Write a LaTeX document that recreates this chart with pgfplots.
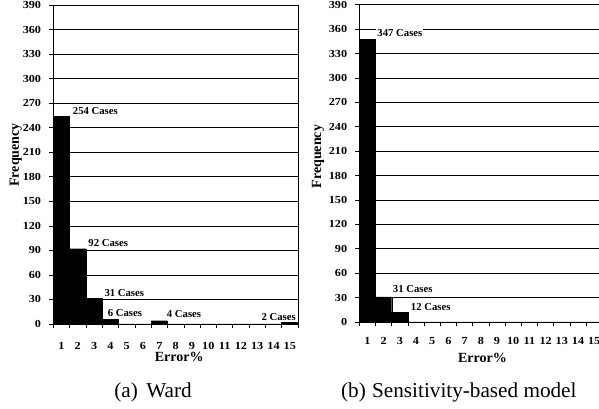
\documentclass[border=0pt]{standalone}
\usepackage{pgfplots}
\pgfplotsset{compat=1.18}
\usepackage{fontspec}
\setmainfont{Liberation Serif}
\newfontfamily\tickfont[FakeStretch=1.13]{Liberation Serif}
\pgfplotstableread{
x y
1 254
2 92
3 31
4 6
5 0
6 0
7 4
8 0
9 0
10 0
11 0
12 0
13 0
14 0
15 2
}\ward
\pgfplotstableread{
x y
1 347
2 31
3 12
4 0
5 0
6 0
7 0
8 0
9 0
10 0
11 0
12 0
13 0
14 0
15 0
}\sens
\tikzset{cases/.style={font=\bfseries\fontsize{10.7}{12}\selectfont, fill=white, inner sep=1pt, anchor=west}}
\begin{document}
\begin{tikzpicture}
\useasboundingbox (0,0) rectangle (599pt,409pt);
\pgfplotsset{
  hist/.style={
    scale only axis, anchor=south west, clip=false,
    ymin=0, ymax=390, ytick={0,30,...,390},
    xmin=0.5, xmax=15.5,
    xtick={0.5,1.5,...,15.5},
    xticklabels={1,2,3,4,5,6,7,8,9,10,11,12,13,14,15,{}},
    ymajorgrids, grid style={black, line width=0.6pt},
    axis line style={line width=0.8pt},
    major tick length=4pt, tick align=outside,
    tick style={black, line width=0.6pt},
    xtick pos=bottom, ytick pos=left,
    /pgf/number format/assume math mode=true,
    ticklabel style={font=\tickfont\bfseries\fontsize{10.8}{12}\selectfont},
    yticklabel style={anchor=east, inner sep=0pt, xshift=-8pt},
    label style={font=\bfseries\fontsize{14}{16}\selectfont},
    ylabel={Frequency}, xlabel={Error\%},
  }
}
\begin{axis}[hist, at={(53.3pt,85pt)}, width=244.7pt, height=319pt,
  xticklabel style={anchor=center, inner sep=0pt, xshift=8.157pt, yshift=-18pt},
  ylabel style={at={(axis description cs:-0.1537,0.53)}, anchor=center},
  xlabel style={at={(axis description cs:0.5145,-0.103)}, anchor=center}]
\addplot[ybar, bar width=1, bar shift=0pt, fill=black, draw=black] table[x=x,y=y] {\ward};
\node[cases] at (axis cs:1.628,261) {254 Cases};
\node[cases] at (axis cs:2.584,99.4) {92 Cases};
\node[cases] at (axis cs:3.565,38.3) {31 Cases};
\node[cases] at (axis cs:3.773,13.8) {6 Cases};
\node[cases] at (axis cs:7.39,11.9) {4 Cases};
\node[cases, anchor=east] at (axis cs:15.44,8.9) {2 Cases};
\end{axis}
\begin{axis}[hist, at={(359.3pt,87pt)}, width=243pt, height=317.3pt,
  xticklabel style={anchor=center, inner sep=0pt, xshift=8.1pt, yshift=-14.7pt},
  ylabel style={at={(axis description cs:-0.17,0.521)}, anchor=center},
  xlabel style={at={(axis description cs:0.507,-0.112)}, anchor=center}]
\addplot[ybar, bar width=1, bar shift=0pt, fill=black, draw=black] table[x=x,y=y] {\sens};
\node[cases] at (axis cs:1.549,355.6) {347 Cases};
\node[cases] at (axis cs:2.5,40.9) {31 Cases};
\node[cases] at (axis cs:3.611,18.8) {12 Cases};
\end{axis}
\node[font=\fontsize{21.2}{24}\selectfont] at (153pt,16.5pt) {(a)\hspace{0.4em}Ward};
\node[font=\fontsize{21.2}{24}\selectfont] at (458.8pt,16.3pt) {(b)\hspace{0.3em}Sensitivity-based model};
\end{tikzpicture}
\end{document}
